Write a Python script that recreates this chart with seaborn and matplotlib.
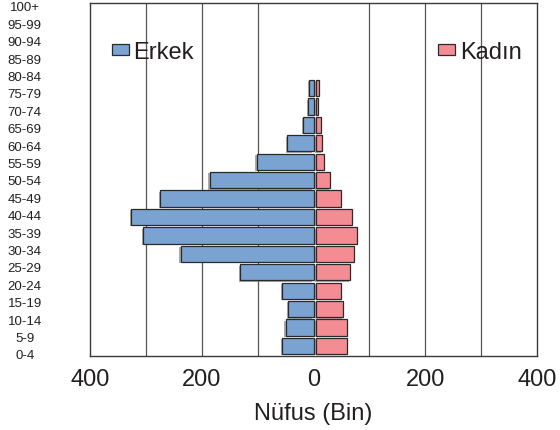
import matplotlib
matplotlib.use("Agg")
import matplotlib.pyplot as plt
import matplotlib.patheffects as pe
from matplotlib.patches import Patch
import seaborn as sns
import pandas as pd

# ---- data ----
bar_ages = ["0-4", "5-9", "10-14", "15-19", "20-24", "25-29", "30-34", "35-39",
            "40-44", "45-49", "50-54", "55-59", "60-64", "65-69", "70-74"]
male = [56, 50, 46, 56, 131, 238, 305, 326, 274, 186, 102, 47, 19, 10, 7.5]
female = [56, 56, 49, 44, 61, 68, 74, 64, 44, 25, 15, 11, 9.5, 3, 5.4]
age_labels = ["0-4", "5-9", "10-14", "15-19", "20-24", "25-29", "30-34", "35-39",
              "40-44", "45-49", "50-54", "55-59", "60-64", "65-69", "70-74",
              "75-79", "80-84", "85-89", "90-94", "95-99", "100+"]
xtick_values = [-400, -200, 0, 200, 400]
xtick_labels = ["400", "200", "0", "200", "400"]
grid_values = [-300, -200, -100, 100, 200, 300]
series_names = ["Erkek", "Kadın"]

BLUE = "#7ba3d1"
PINK = "#f48c94"
EDGE = "#2a2a2a"
TEXT = "#231f20"

sns.set_style("white")
plt.rcParams["font.family"] = ["Liberation Sans", "DejaVu Sans"]

df = pd.DataFrame({"age": bar_ages, "male": [-v for v in male], "female": female})

fig = plt.figure(figsize=(5.6, 4.31), dpi=100)
ax = fig.add_axes([90 / 560, 1 - 357 / 431, 447 / 560, 353 / 431])

for g in grid_values:
    ax.axvline(g, color="#555555", lw=0.9, zorder=0)

shadow = [pe.SimplePatchShadow(offset=(-0.8, -1.0), shadow_rgbFace="0.45", alpha=0.6), pe.Normal()]

sns.barplot(data=df, x="male", y="age", order=bar_ages, orient="h", color=BLUE,
            saturation=1, edgecolor=EDGE, linewidth=0.9, width=0.88,
            errorbar=None, ax=ax, zorder=2)
n_male = len(ax.patches)
sns.barplot(data=df, x="female", y="age", order=bar_ages, orient="h", color=PINK,
            saturation=1, edgecolor=EDGE, linewidth=0.9, width=0.88,
            errorbar=None, ax=ax, zorder=2)
gap = 4.5
for i, p in enumerate(ax.patches):
    p.set_path_effects(shadow)
    if i >= n_male:
        p.set_x(p.get_x() + gap)

ax.set_xlim(-400, 400)
ax.set_ylim(-0.5426, 18.612)
ax.set_xticks(xtick_values)
ax.set_xticklabels(xtick_labels)
ax.tick_params(axis="x", which="both", length=0, pad=9, labelsize=17, colors=TEXT)
ax.tick_params(axis="y", which="both", length=0, left=False, right=False, labelleft=False)
ax.set_ylabel("")
ax.set_xlabel("Nüfus (Bin)", fontsize=17, color=TEXT, labelpad=8)
for s in ax.spines.values():
    s.set_visible(True)
    s.set_color("#3a3a3a")
    s.set_linewidth(1.0)

# age label column
ax2 = ax.twinx()
ax2.set_ylim(-0.115, 20.17)
ax2.yaxis.set_ticks_position("left")
ax2.set_yticks(range(len(age_labels)))
ax2.set_yticklabels(age_labels)
ax2.tick_params(axis="y", which="both", length=0, pad=47, labelsize=9.5, colors=TEXT)
ax2.tick_params(axis="x", which="both", length=0)
for lbl in ax2.get_yticklabels():
    lbl.set_horizontalalignment("center")
for s in ax2.spines.values():
    s.set_visible(False)

# legends
h_m = Patch(facecolor=BLUE, edgecolor=EDGE, linewidth=0.9)
h_f = Patch(facecolor=PINK, edgecolor=EDGE, linewidth=0.9)
leg1 = ax.legend([h_m], [series_names[0]], loc="center left",
                 bbox_to_anchor=(112 / 560, 1 - 53 / 431), bbox_transform=fig.transFigure,
                 frameon=False, fontsize=17, handlelength=0.72, handleheight=0.34,
                 handletextpad=0.18, borderpad=0, borderaxespad=0, labelcolor=TEXT)
ax.add_artist(leg1)
leg2 = ax.legend([h_f], [series_names[1]], loc="center left",
                 bbox_to_anchor=(438 / 560, 1 - 53 / 431), bbox_transform=fig.transFigure,
                 frameon=False, fontsize=17, handlelength=0.72, handleheight=0.34,
                 handletextpad=0.22, borderpad=0, borderaxespad=0, labelcolor=TEXT)

fig.savefig("out.png", dpi=100, facecolor="white")
